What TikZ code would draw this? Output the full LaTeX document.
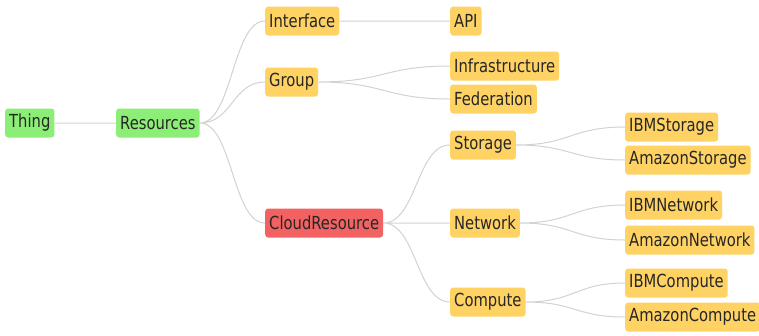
\documentclass[tikz,border=0pt]{standalone}
\usepackage{fontspec}
\setmainfont{DejaVu Sans}[FakeStretch=0.82]
\usetikzlibrary{calc}
\definecolor{rootgreen}{RGB}{140,238,118}
\definecolor{leafyellow}{RGB}{255,210,100}
\definecolor{hotred}{RGB}{242,98,98}
\definecolor{linkgray}{RGB}{210,210,210}

\begin{document}
\begin{tikzpicture}[x=1pt,y=-1pt,
  box/.style={rounded corners=3pt, anchor=west, inner xsep=4pt, inner ysep=0pt,
    minimum height=29pt, font=\fontsize{18}{18}\selectfont, text=black!85},
  green/.style={box, fill=rootgreen},
  yellow/.style={box, fill=leafyellow},
  red/.style={box, fill=hotred},
  diag/.style={to path={let \p1=(\tikztostart), \p2=(\tikztotarget) in
    .. controls ({(\x1+\x2)/2},\y1) and ({(\x1+\x2)/2},\y2) .. (\tikztotarget)}}]
\useasboundingbox (0,0) rectangle (759,335);
\node (thing) at (5,123) [green] {Thing};
\node (res) at (116,123) [green] {Resources};
\node (iface) at (265,21) [yellow] {Interface};
\node (group) at (265,82) [yellow] {Group};
\node (cloud) at (265,223) [red] {CloudResource};
\node (api) at (450,21) [yellow] {API};
\node (infra) at (450,66) [yellow] {Infrastructure};
\node (fed) at (450,99) [yellow] {Federation};
\node (stor) at (450,145) [yellow] {Storage};
\node (net) at (450,223) [yellow] {Network};
\node (comp) at (450,302) [yellow] {Compute};
\node (ibmstor) at (625,127) [yellow] {IBMStorage};
\node (amzstor) at (625,160) [yellow] {AmazonStorage};
\node (ibmnet) at (625,205) [yellow] {IBMNetwork};
\node (amznet) at (625,240) [yellow] {AmazonNetwork};
\node (ibmcomp) at (625,283) [yellow] {IBMCompute};
\node (amzcomp) at (625,317) [yellow] {AmazonCompute};
\draw[linkgray, line width=1pt]
(thing.east) to[diag] (res.west)
(res.east) to[diag] (iface.west)
(res.east) to[diag] (group.west)
(res.east) to[diag] (cloud.west)
(iface.east) to[diag] (api.west)
(group.east) to[diag] (infra.west)
(group.east) to[diag] (fed.west)
(cloud.east) to[diag] (stor.west)
(cloud.east) to[diag] (net.west)
(cloud.east) to[diag] (comp.west)
(stor.east) to[diag] (ibmstor.west)
(stor.east) to[diag] (amzstor.west)
(net.east) to[diag] (ibmnet.west)
(net.east) to[diag] (amznet.west)
(comp.east) to[diag] (ibmcomp.west)
(comp.east) to[diag] (amzcomp.west);
\end{tikzpicture}
\end{document}
